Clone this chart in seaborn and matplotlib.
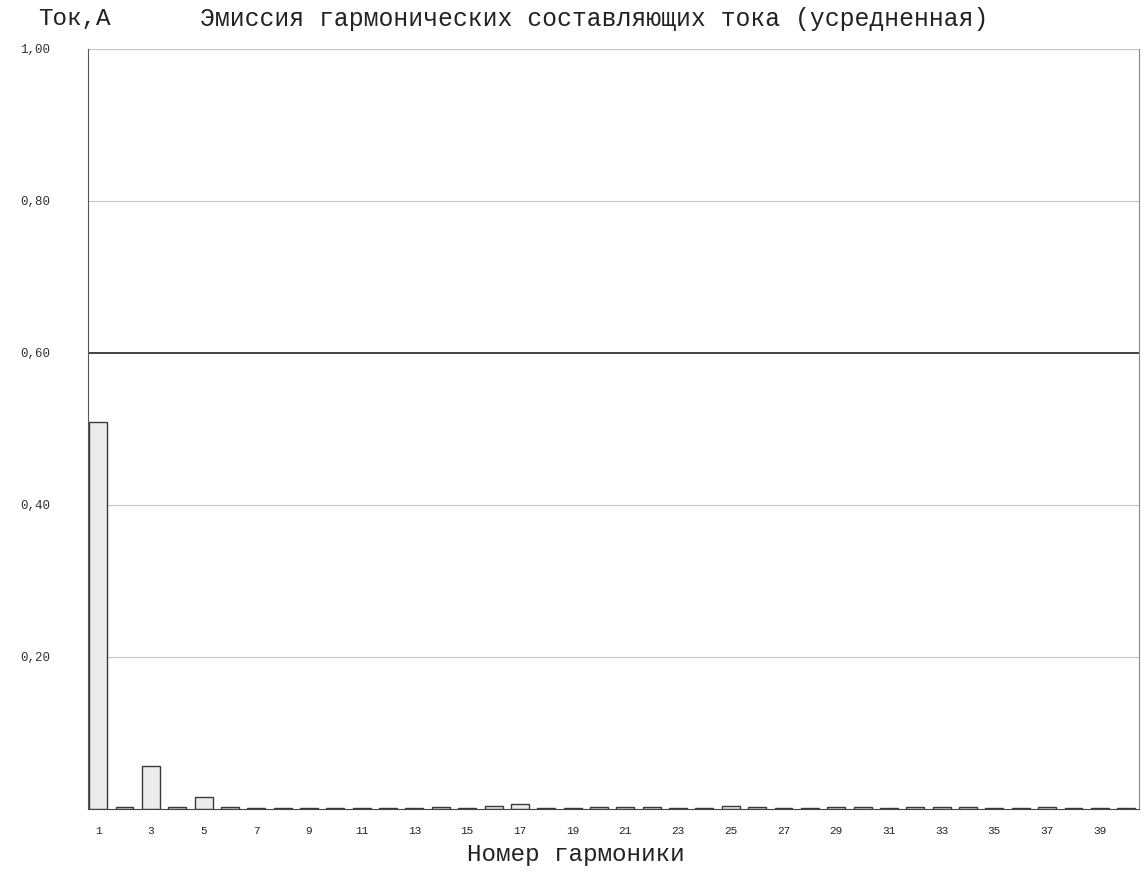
import matplotlib
matplotlib.use("Agg")
import matplotlib.pyplot as plt
import pandas as pd
import seaborn as sns

# harmonic numbers and averaged current emission, A
harmonics = list(range(1, 41))
current = [0.509, 0.002, 0.057, 0.002, 0.016, 0.002, 0.001, 0.001, 0.001, 0.001,
           0.001, 0.001, 0.001, 0.002, 0.001, 0.004, 0.006, 0.001, 0.001, 0.002,
           0.002, 0.002, 0.001, 0.001, 0.004, 0.002, 0.001, 0.001, 0.003, 0.002,
           0.001, 0.002, 0.003, 0.002, 0.001, 0.001, 0.003, 0.001, 0.001, 0.001]
y_ticks = [0.2, 0.4, 0.6, 0.8, 1.0]
y_tick_labels = ["0,20", "0,40", "0,60", "0,80", "1,00"]
limit = 0.6

df = pd.DataFrame({"harm": harmonics, "I": current})

sns.set_style("white")
plt.rcParams["font.family"] = ["Liberation Mono", "DejaVu Sans Mono"]

fig = plt.figure(figsize=(11.44, 8.85), dpi=100)
ax = fig.add_axes([0.077, 0.086, 0.919, 0.859])

sns.barplot(data=df, x="harm", y="I", order=harmonics, color="#ececec",
            edgecolor="#3a3a3a", linewidth=1.0, width=0.68, ax=ax)

for y in y_ticks:
    if y == limit:
        ax.axhline(y, color="#222222", lw=1.2, zorder=0)
    else:
        ax.axhline(y, color="#c4c4c4", lw=0.8, zorder=0)

ax.set_ylim(0, 1.0)
ax.set_xlim(-0.38, 39.47)
ax.set_yticks(y_ticks)
ax.set_yticklabels(y_tick_labels, fontsize=9, color="#333333")
odd_pos = [i for i, h in enumerate(harmonics) if h % 2 == 1]
ax.set_xticks(odd_pos)
ax.set_xticklabels([str(harmonics[i]) for i in odd_pos], fontsize=8)
ax.set_xticks([i + 0.5 for i in range(len(harmonics))], minor=True)
ax.tick_params(axis="x", which="minor", direction="in", length=6, color="#aaaaaa")
ax.tick_params(axis="x", which="major", length=0, pad=12)
ax.tick_params(axis="y", length=0, pad=27)

ax.set_xlabel("")
ax.set_ylabel("")
ax.spines["top"].set_visible(False)
ax.spines["left"].set_color("#555555")
ax.spines["bottom"].set_color("#444444")
ax.spines["right"].set_color("#888888")

fig.text(0.033, 0.979, "Ток,А", fontsize=17.5, va="center", ha="left", color="#222222")
fig.text(0.175, 0.979, "Эмиссия гармонических составляющих тока (усредненная)",
         fontsize=17.8, va="center", ha="left", color="#222222")
fig.text(0.503, 0.034, "Номер гармоники", fontsize=17.5, va="center", ha="center",
         color="#222222")

fig.savefig("out.png", dpi=100)
